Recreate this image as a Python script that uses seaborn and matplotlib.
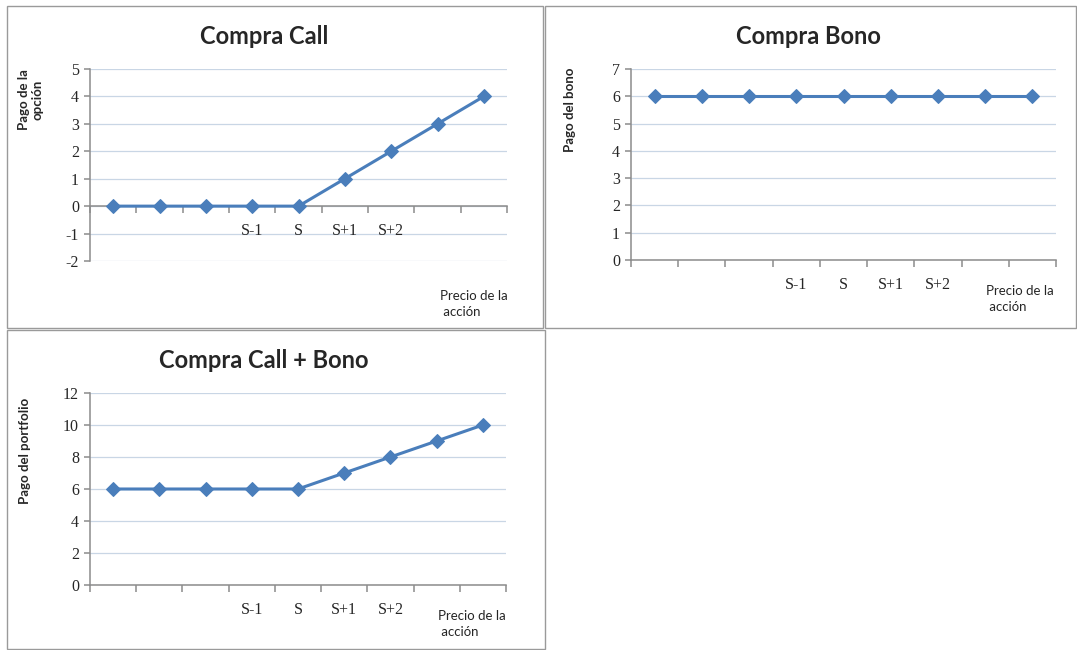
import numpy as np
import pandas as pd
import matplotlib
matplotlib.use("Agg")
import matplotlib.pyplot as plt
from matplotlib.patches import Rectangle
from matplotlib.ticker import FixedLocator, NullFormatter, FixedFormatter
import seaborn as sns

# Data
price_labels = ["", "", "", "S-1", "S", "S+1", "S+2", "", ""]
pago_call = [0, 0, 0, 0, 0, 1, 2, 3, 4]
pago_bono = [6, 6, 6, 6, 6, 6, 6, 6, 6]
pago_portfolio = [6, 6, 6, 6, 6, 7, 8, 9, 10]

W, H = 1077, 650
LINE_COLOR = "#4a7ebb"
GRID_COLOR = "#c9d6e5"
AXIS_COLOR = "#8c8c8c"

sns.set_style("white")
plt.rcParams["font.family"] = ["Lato", "DejaVu Sans"]

fig = plt.figure(figsize=(W / 100, H / 100), dpi=100)


def px_axes(x0, y0, x1, y1):
    """Add axes from pixel box (top-left origin)."""
    return fig.add_axes([x0 / W, 1 - y1 / H, (x1 - x0) / W, (y1 - y0) / H])


def box(x0, y0, x1, y1):
    fig.patches.append(Rectangle((x0 / W, 1 - y1 / H), (x1 - x0) / W, (y1 - y0) / H,
                                 transform=fig.transFigure, fill=False,
                                 edgecolor="#9a9a9a", linewidth=1.0))


def payoff_chart(ax, values, ylim, ystep, title, title_xy, ylabel, ylabel_xy, precio_xy):
    df = pd.DataFrame({"pos": np.arange(len(values)), "pago": values})
    sns.lineplot(data=df, x="pos", y="pago", ax=ax, color=LINE_COLOR, linewidth=2.2,
                 marker="D", markersize=7, markeredgecolor=LINE_COLOR, zorder=5)
    n = len(values)
    ax.set_xlim(-0.5, n - 0.5)
    ax.set_ylim(*ylim)
    yt = np.arange(ylim[0], ylim[1] + ystep, ystep)
    ax.set_yticks(yt)
    ax.set_yticklabels([str(v) for v in yt], family=["Liberation Serif"], fontsize=11.5)
    ax.set_axisbelow(True)
    ax.yaxis.grid(True, color=GRID_COLOR, linewidth=0.9)
    ax.xaxis.grid(False)
    ax.xaxis.set_zorder(1.5)  # category labels over the grid lines
    for s in ["top", "right"]:
        ax.spines[s].set_visible(False)
    for s in ["left", "bottom"]:
        ax.spines[s].set_color(AXIS_COLOR)
        ax.spines[s].set_linewidth(1.1)
        ax.spines[s].set_zorder(3)
    ax.spines["bottom"].set_position(("data", 0))
    ax.xaxis.set_major_locator(FixedLocator(np.arange(n + 1) - 0.5))
    ax.xaxis.set_major_formatter(NullFormatter())
    ax.xaxis.set_minor_locator(FixedLocator(np.arange(n)))
    ax.xaxis.set_minor_formatter(FixedFormatter(price_labels))
    ax.tick_params(axis="x", which="major", direction="out", length=5, color=AXIS_COLOR,
                   width=1.1, bottom=True)
    ax.tick_params(axis="x", which="minor", length=0, pad=12, labelsize=11.5, bottom=True)
    for lbl in ax.get_xticklabels(minor=True):
        lbl.set_family(["Liberation Serif"])
    ax.tick_params(axis="y", direction="out", length=4, color=AXIS_COLOR, width=1.1, pad=4,
                   left=True)
    ax.set_xlabel("")
    ax.set_ylabel("")
    ax.set_facecolor("white")
    fig.text(title_xy[0] / W, 1 - title_xy[1] / H, title, ha="center", va="center",
             fontsize=17, fontweight="bold")
    fig.text(ylabel_xy[0] / W, 1 - ylabel_xy[1] / H, ylabel, ha="center", va="center",
             rotation=90, fontsize=9.5, fontweight="bold", linespacing=1.15)
    fig.text(precio_xy[0] / W, 1 - precio_xy[1] / H, "Precio de la\n acción", ha="left",
             va="center", fontsize=9.5, linespacing=1.35)


box(7, 6, 543, 328)
box(545, 6, 1076, 328)
box(7, 330, 545, 649)

ax1 = px_axes(90, 69, 507, 261)
payoff_chart(ax1, pago_call, (-2, 5), 1, "Compra Call", (264, 36),
             "Pago de la\nopción", (31, 100), (440, 304))

ax2 = px_axes(631, 69, 1056, 260)
payoff_chart(ax2, pago_bono, (0, 7), 1, "Compra Bono", (808, 36),
             "Pago del bono", (570, 110), (986, 299))

ax3 = px_axes(90, 393, 506, 585)
payoff_chart(ax3, pago_portfolio, (0, 12), 2, "Compra Call + Bono", (264, 361),
             "Pago del portfolio", (25, 451), (438, 624))

fig.savefig("out.png", dpi=100, facecolor="white")
